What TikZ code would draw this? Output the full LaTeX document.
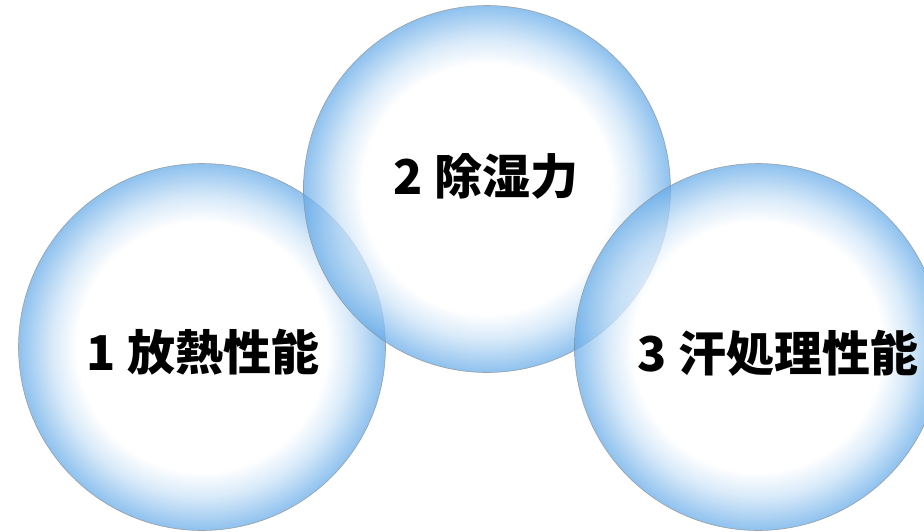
\documentclass[tikz,border=0pt]{standalone}
\usepackage{fontspec}
\newfontfamily\jpfont{Noto Sans CJK JP}
\usetikzlibrary{shadings}

\definecolor{bubbleblue}{RGB}{60,148,226}
\pgfdeclareradialshading{bubblefill}{\pgfpoint{0bp}{0bp}}{%
	color(0bp)=(white); color(17bp)=(white); color(20.5bp)=(bubbleblue!28);
	color(25bp)=(bubbleblue!80); color(50bp)=(bubbleblue!80)}

\tikzset{
	bubble/.style={circle, minimum size=367pt, inner sep=0pt, shading=bubblefill,
		opacity=0.72, draw=gray!90, line width=0.6pt},
	bubbletext/.style={font=\jpfont\bfseries\fontsize{48}{52}\selectfont, inner sep=0pt}
}

\begin{document}
\begin{tikzpicture}[x=1pt,y=-1pt]
	\useasboundingbox (0,0) rectangle (924,531);

	% the three bubbles, back to front
	\node[bubble] (heat) at (202,347) {};
	\node[bubble] (dehum) at (487,189) {};
	\node[bubble] (sweat) at (758,347) {};

	% labels
	\node[bubbletext] (heattxt) at (203,352) {1 放熱性能};
	\node[bubbletext] (dehumtxt) at (486,176) {2 除湿力};
	\node[bubbletext] (sweattxt) at (778,353) {3 汗処理性能};
\end{tikzpicture}
\end{document}
